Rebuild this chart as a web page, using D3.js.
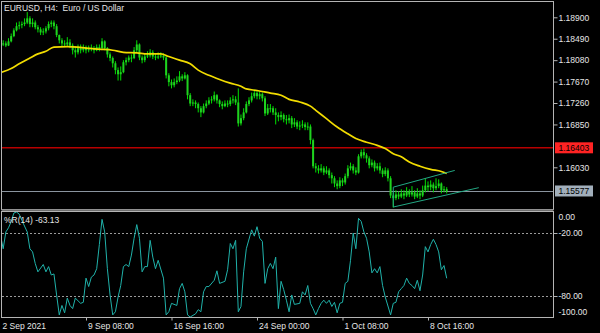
<!DOCTYPE html>
<html>
<head>
<meta charset="utf-8">
<script src="https://cdn.jsdelivr.net/npm/d3@7"></script>
<style>
  body { margin: 0; background: #000; }
  svg text { font-family: "Liberation Sans", Arial, sans-serif; font-size: 8.5px; fill: #e6e6e6; white-space: pre; }
</style>
</head>
<body>
<div id="chart"></div>
<script>
// EURUSD H4 candles, one entry per bar (bar 0 = 2 Sep 2021 00:00)
var firstOpen = 1.1835;
var closes = [1.1838,1.1840,1.1836,1.1844,1.1854,1.1865,1.1873,1.1875,1.1877,1.1880,
  1.1888,1.1877,1.1880,1.1871,1.1867,1.1861,1.1863,1.1869,1.1877,1.1880,
  1.1873,1.1856,1.1846,1.1840,1.1838,1.1842,1.1836,1.1827,1.1823,1.1831,
  1.1827,1.1833,1.1827,1.1829,1.1831,1.1827,1.1833,1.1831,1.1844,1.1831,
  1.1819,1.1812,1.1802,1.1789,1.1781,1.1785,1.1804,1.1808,1.1813,1.1812,
  1.1827,1.1838,1.1813,1.1808,1.1815,1.1817,1.1823,1.1815,1.1813,1.1815,
  1.1817,1.1813,1.1779,1.1766,1.1760,1.1766,1.1769,1.1777,1.1773,1.1779,
  1.1741,1.1725,1.1727,1.1724,1.1716,1.1708,1.1720,1.1725,1.1731,1.1733,
  1.1741,1.1731,1.1724,1.1720,1.1725,1.1724,1.1731,1.1733,1.1727,1.1687,
  1.1697,1.1708,1.1724,1.1731,1.1739,1.1745,1.1739,1.1743,1.1735,1.1706,
  1.1716,1.1716,1.1708,1.1703,1.1699,1.1703,1.1695,1.1693,1.1697,1.1685,
  1.1689,1.1681,1.1683,1.1685,1.1680,1.1681,1.1655,1.1605,1.1601,1.1597,
  1.1601,1.1593,1.1597,1.1588,1.1582,1.1572,1.1567,1.1578,1.1574,1.1586,
  1.1601,1.1605,1.1597,1.1593,1.1624,1.1632,1.1626,1.1620,1.1607,1.1612,
  1.1601,1.1605,1.1597,1.1590,1.1597,1.1582,1.1549,1.1544,1.1551,1.1547,
  1.1553,1.1549,1.1557,1.1551,1.1555,1.1547,1.1553,1.1549,1.1559,1.1568,
  1.1565,1.1570,1.1563,1.1567,1.1572,1.1559,1.1561,1.15577];
var highs = [1.1846,1.1846,1.1844,1.1850,1.1859,1.1869,1.1880,1.1882,1.1882,1.1888,
  1.1900,1.1892,1.1888,1.1884,1.1875,1.1871,1.1869,1.1873,1.1882,1.1884,
  1.1884,1.1877,1.1857,1.1850,1.1846,1.1852,1.1848,1.1840,1.1835,1.1838,
  1.1838,1.1838,1.1836,1.1836,1.1838,1.1835,1.1838,1.1838,1.1850,1.1846,
  1.1833,1.1823,1.1815,1.1806,1.1794,1.1796,1.1808,1.1813,1.1817,1.1819,
  1.1833,1.1846,1.1840,1.1817,1.1821,1.1825,1.1829,1.1827,1.1821,1.1823,
  1.1823,1.1821,1.1817,1.1783,1.1771,1.1773,1.1777,1.1787,1.1781,1.1785,
  1.1781,1.1745,1.1733,1.1731,1.1727,1.1720,1.1725,1.1731,1.1737,1.1739,
  1.1748,1.1743,1.1733,1.1729,1.1731,1.1731,1.1737,1.1741,1.1739,1.1754,
  1.1704,1.1716,1.1729,1.1737,1.1746,1.1752,1.1750,1.1748,1.1746,1.1739,
  1.1724,1.1724,1.1720,1.1716,1.1708,1.1710,1.1706,1.1703,1.1704,1.1701,
  1.1697,1.1693,1.1691,1.1693,1.1689,1.1689,1.1685,1.1658,1.1611,1.1607,
  1.1609,1.1605,1.1605,1.1601,1.1593,1.1586,1.1578,1.1584,1.1582,1.1591,
  1.1607,1.1612,1.1609,1.1603,1.1628,1.1637,1.1639,1.1630,1.1624,1.1618,
  1.1616,1.1611,1.1612,1.1601,1.1603,1.1601,1.1586,1.1555,1.1559,1.1557,
  1.1561,1.1559,1.1565,1.1561,1.1567,1.1559,1.1563,1.1559,1.1568,1.1582,
  1.1576,1.1578,1.1574,1.1582,1.1580,1.1574,1.1567,1.1565];
var lows = [1.1831,1.1835,1.1833,1.1835,1.1842,1.1852,1.1863,1.1867,1.1869,1.1873,
  1.1877,1.1871,1.1871,1.1867,1.1861,1.1856,1.1856,1.1859,1.1865,1.1871,
  1.1867,1.1852,1.1840,1.1835,1.1833,1.1833,1.1831,1.1819,1.1813,1.1819,
  1.1821,1.1823,1.1821,1.1823,1.1825,1.1821,1.1825,1.1825,1.1829,1.1827,
  1.1813,1.1806,1.1794,1.1781,1.1769,1.1769,1.1783,1.1798,1.1804,1.1804,
  1.1810,1.1823,1.1808,1.1802,1.1804,1.1812,1.1813,1.1810,1.1808,1.1810,
  1.1812,1.1808,1.1773,1.1758,1.1754,1.1756,1.1762,1.1766,1.1768,1.1771,
  1.1733,1.1720,1.1720,1.1716,1.1708,1.1699,1.1706,1.1716,1.1722,1.1725,
  1.1729,1.1725,1.1718,1.1714,1.1718,1.1718,1.1720,1.1725,1.1722,1.1681,
  1.1683,1.1693,1.1706,1.1720,1.1727,1.1735,1.1733,1.1733,1.1729,1.1701,
  1.1703,1.1708,1.1703,1.1685,1.1691,1.1693,1.1689,1.1685,1.1687,1.1678,
  1.1680,1.1676,1.1674,1.1678,1.1674,1.1674,1.1647,1.1601,1.1593,1.1591,
  1.1593,1.1588,1.1590,1.1582,1.1572,1.1565,1.1561,1.1563,1.1567,1.1570,
  1.1582,1.1597,1.1591,1.1588,1.1591,1.1620,1.1620,1.1612,1.1601,1.1603,
  1.1595,1.1597,1.1591,1.1584,1.1586,1.1576,1.1544,1.1526,1.1540,1.1542,
  1.1544,1.1542,1.1546,1.1546,1.1547,1.1542,1.1544,1.1542,1.1546,1.1555,
  1.1557,1.1559,1.1555,1.1559,1.1563,1.1553,1.1555,1.1553];

// yellow moving average, read at these bars
var maBars = [0,4,7,11,14,17,20,25,29,32,37,42,46,51,55,58,60,63,67,71,74,78,82,86,90,92,96,
  101,105,108,112,116,118,122,126,130,133,137,141,144,147,150,153,157,161,165,167];
var maValues = [1.1784,1.1792,1.1801,1.1812,1.1820,1.1825,1.1833,1.1834,1.1833,1.1831,1.1829,
  1.1827,1.1823,1.1822,1.1820,1.1820,1.1820,1.1815,1.1808,1.1801,1.1789,1.1779,1.1771,1.1764,
  1.1758,1.1753,1.1750,1.1745,1.1741,1.1733,1.1728,1.1720,1.1712,1.1696,1.1680,1.1667,1.1658,
  1.1651,1.1645,1.1639,1.1629,1.1623,1.1613,1.1605,1.1599,1.1595,1.1591];

// Williams %R(14)
var wprBars = [0,1,2,3,4,5,6,7,8,10,11,12,13,14,16,17,18,19,20,21,22,23,24,25,26,27,28,30,31,32,33,
  34,35,36,37,38,39,40,41,42,43,44,45,46,47,48,49,50,51,52,53,54,55,56,57,58,59,61,62,63,64,66,67,
  68,69,70,71,73,74,75,76,77,78,80,81,82,84,85,86,87,88,89,90,91,92,94,95,96,97,98,99,100,101,102,
  103,104,105,106,107,108,109,110,112,113,114,115,116,117,118,119,120,121,122,123,124,125,126,127,
  128,129,130,131,132,133,134,135,136,137,138,139,140,141,142,143,144,146,147,148,149,150,151,152,
  153,154,155,156,157,158,159,160,161,162,163,164,165,166,167];
var wprValues = [-22,-35,-19,-15,-9,-1,0,-2,-8,-19,-35,-38,-49,-57,-50,-57,-52,-60,-59,-79,-98,-89,
  -96,-82,-89,-92,-82,-87,-86,-63,-71,-62,-60,-54,-31,-7,-19,-54,-79,-98,-95,-81,-70,-52,-50,-52,
  -41,-25,-12,-25,-57,-52,-52,-27,-43,-54,-46,-63,-98,-95,-87,-89,-73,-68,-76,-98,-100,-97,-93,-95,
  -76,-71,-71,-65,-56,-68,-66,-55,-30,-35,-27,-95,-90,-57,-35,-17,-23,-14,-25,-28,-68,-54,-49,-54,
  -43,-92,-66,-74,-84,-95,-79,-88,-87,-76,-79,-70,-87,-92,-98,-92,-87,-84,-87,-84,-90,-86,-96,-87,
  -86,-68,-66,-46,-20,-35,-6,-9,-19,-25,-38,-58,-54,-58,-52,-70,-81,-98,-87,-86,-76,-73,-70,-63,
  -68,-70,-73,-65,-75,-60,-33,-38,-31,-26,-31,-38,-55,-51,-63.13];

// axis ticks
var priceTicks = [1.18900, 1.18490, 1.18080, 1.17670, 1.17260, 1.16850, 1.16030];
var wprTicks = [0, -20, -80, -100];
var wprLevels = [-20, -80];
var timeBars = [0, 32, 64, 96, 128, 160];
var timeLabels = ["2 Sep 2021", "9 Sep 08:00", "16 Sep 16:00", "24 Sep 00:00", "1 Oct 08:00", "8 Oct 16:00"];

// horizontal lines and the price channel
var redLevel = 1.16403;
var bidLevel = 1.15577;
var channelLower = [[147, 1.1527], [179, 1.1564]];
var channelUpper = [[147, 1.1565], [170, 1.1597]];

var svgWidth = 600, svgHeight = 333;
var plot = {left: 2, right: 553, top: 2, bottom: 209};
var sub = {top: 212, bottom: 317};

var svg = d3.select("#chart").append("svg")
  .attr("width", svgWidth)
  .attr("height", svgHeight)
  .style("background", "#000");

//scales
var x = d3.scaleLinear().domain([32, 160]).range([86, 428]);
var yP = d3.scaleLinear().domain([1.1603, 1.189]).range([167.3, 17.3]);
var yW = d3.scaleLinear().domain([-100, 0]).range([sub.bottom, sub.top]);

var defs = svg.append("defs");
defs.append("clipPath").attr("id", "clipMain").append("rect")
  .attr("x", plot.left).attr("y", plot.top)
  .attr("width", plot.right - plot.left).attr("height", plot.bottom - plot.top);
defs.append("clipPath").attr("id", "clipSub").append("rect")
  .attr("x", plot.left).attr("y", sub.top)
  .attr("width", plot.right - plot.left).attr("height", sub.bottom - sub.top);

var main = svg.append("g").attr("clip-path", "url(#clipMain)");

// level lines
main.append("line")
  .attr("x1", plot.left).attr("x2", plot.right)
  .attr("y1", yP(redLevel)).attr("y2", yP(redLevel))
  .attr("stroke", "#b80000").attr("stroke-width", 1.5);
main.append("line")
  .attr("x1", plot.left).attr("x2", plot.right)
  .attr("y1", Math.round(yP(bidLevel)) + 0.5).attr("y2", Math.round(yP(bidLevel)) + 0.5)
  .attr("stroke", "#8a949e").attr("stroke-width", 1);

// candles
var bars = closes.map(function(c, i) {
  var o = i === 0 ? firstOpen : closes[i - 1];
  return {i: i, o: o, c: c, h: Math.max(highs[i], o, c), l: Math.min(lows[i], o, c)};
});

var candle = main.selectAll("g.candle")
  .data(bars)
  .enter()
  .append("g")
  .classed("candle", true);

candle.append("line")
  .attr("x1", d => x(d.i)).attr("x2", d => x(d.i))
  .attr("y1", d => yP(d.h)).attr("y2", d => yP(d.l))
  .attr("stroke", "#00e000").attr("stroke-width", 1);

candle.append("rect")
  .attr("x", d => x(d.i) - 1)
  .attr("width", 2)
  .attr("y", d => yP(Math.max(d.o, d.c)))
  .attr("height", d => Math.max(1, Math.abs(yP(d.o) - yP(d.c))))
  .attr("fill", "#1fd21f");

// moving average
var maLine = d3.line()
  .x(d => x(d[0]))
  .y(d => yP(d[1]))
  .curve(d3.curveMonotoneX);
main.append("path")
  .datum(maBars.map((b, k) => [b, maValues[k]]))
  .attr("d", maLine)
  .attr("fill", "none")
  .attr("stroke", "#f2dc00")
  .attr("stroke-width", 1.7);

// channel
var straight = d3.line().x(d => x(d[0])).y(d => yP(d[1]));
[channelLower, channelUpper].forEach(function(seg) {
  main.append("path").attr("d", straight(seg))
    .attr("fill", "none").attr("stroke", "#22a883").attr("stroke-width", 1);
});
main.append("path").attr("d", straight([channelLower[0], channelUpper[0]]))
  .attr("fill", "none").attr("stroke", "#22a883").attr("stroke-width", 1);

// lower panel: %R
var subG = svg.append("g").attr("clip-path", "url(#clipSub)");
subG.selectAll("line.level")
  .data(wprLevels)
  .enter()
  .append("line")
  .classed("level", true)
  .attr("x1", plot.left).attr("x2", plot.right)
  .attr("y1", d => Math.round(yW(d)) + 0.5).attr("y2", d => Math.round(yW(d)) + 0.5)
  .attr("stroke", "#9a9a9a").attr("stroke-width", 1)
  .attr("stroke-dasharray", "2,2");

var wprLine = d3.line().x(d => x(d[0])).y(d => yW(d[1]));
subG.append("path")
  .datum(wprBars.map((b, k) => [b, wprValues[k]]))
  .attr("d", wprLine)
  .attr("fill", "none")
  .attr("stroke", "#20b2aa")
  .attr("stroke-width", 1);

// frames
var frame = "#b4b4b4";
svg.append("rect")
  .attr("x", plot.left - 0.5).attr("y", plot.top - 0.5)
  .attr("width", plot.right - plot.left + 1).attr("height", plot.bottom - plot.top + 1)
  .attr("fill", "none").attr("stroke", frame);
svg.append("rect")
  .attr("x", plot.left - 0.5).attr("y", plot.bottom + 0.5)
  .attr("width", plot.right - plot.left + 1).attr("height", sub.top - plot.bottom - 1)
  .attr("fill", "#6e6e6e");
svg.append("rect")
  .attr("x", plot.left - 0.5).attr("y", sub.top - 0.5)
  .attr("width", plot.right - plot.left + 1).attr("height", sub.bottom - sub.top + 1)
  .attr("fill", "none").attr("stroke", frame);

// price axis
var priceAxis = svg.append("g")
  .attr("transform", `translate(${plot.right + 0.5},0)`)
  .call(d3.axisRight(yP).tickValues(priceTicks).tickFormat(d3.format(".5f")).tickSize(4).tickPadding(1));
priceAxis.select(".domain").remove();
priceAxis.selectAll("line").attr("stroke", frame);
priceAxis.selectAll("text").attr("fill", "#e6e6e6").style("font-size", "8.5px").style("font-family", "Liberation Sans, Arial, sans-serif");

// price labels for the two lines
function priceTag(v, fill) {
  var g = svg.append("g").attr("transform", `translate(${plot.right + 1},${yP(v)})`);
  g.append("rect").attr("x", 1).attr("y", -5.5).attr("width", 38).attr("height", 11).attr("fill", fill);
  g.append("text").attr("x", 4.5).attr("dy", "0.33em").style("fill", "#000").text(d3.format(".5f")(v));
}
priceTag(redLevel, "#ff2323");
priceTag(bidLevel, "#a2afbb");

// %R axis
var wprAxis = svg.append("g")
  .attr("transform", `translate(${plot.right + 0.5},0)`)
  .call(d3.axisRight(yW).tickValues(wprTicks).tickFormat(d3.format(".2f")).tickSize(4).tickPadding(1));
wprAxis.select(".domain").remove();
wprAxis.selectAll("line").attr("stroke", frame)
  .attr("display", d => (d === 0 || d === -100) ? "none" : null);
wprAxis.selectAll("text").attr("fill", "#e6e6e6").style("font-size", "8.5px").style("font-family", "Liberation Sans, Arial, sans-serif")
  .attr("dy", d => d === 0 ? "0.9em" : d === -100 ? "-0.25em" : "0.32em")
  .text(d => d3.format(".2f")(d).replace("-", "\u2212").replace("\u2212", "-"));

// time axis
var timeAxis = svg.append("g")
  .attr("transform", `translate(0,${sub.bottom + 0.5})`)
  .call(d3.axisBottom(x).tickValues(timeBars).tickFormat((d, k) => timeLabels[k]).tickSize(3).tickPadding(2));
timeAxis.select(".domain").remove();
timeAxis.selectAll("line").attr("stroke", frame).attr("display", d => d === 0 ? "none" : null);
timeAxis.selectAll("text").attr("text-anchor", "start").attr("x", 1.5)
  .attr("fill", "#e6e6e6").style("font-size", "8.5px").style("font-family", "Liberation Sans, Arial, sans-serif");

// captions
svg.append("text").attr("x", 4).attr("y", 11).text("EURUSD, H4:  Euro / US Dollar");
svg.append("text").attr("x", 4).attr("y", 222.5).text("%R(14) -63.13");
</script>
</body>
</html>
